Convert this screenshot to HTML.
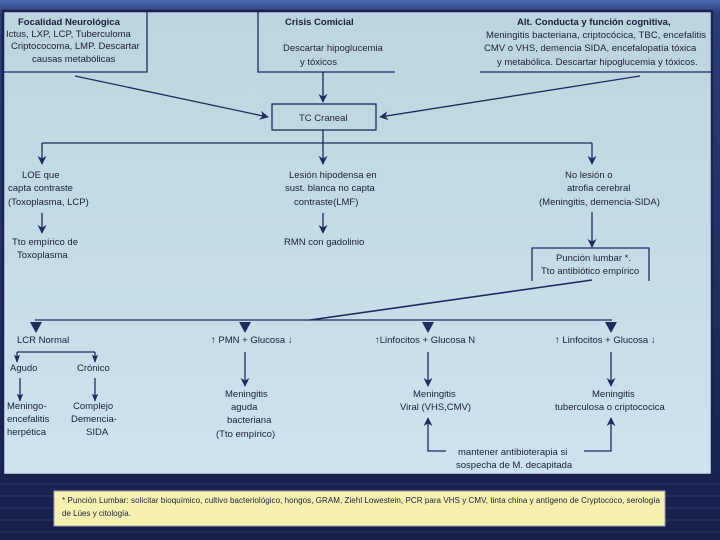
<!DOCTYPE html>
<html><head><meta charset="utf-8"><style>
body{margin:0;width:720px;height:540px;overflow:hidden;background:#1b2452;font-family:"Liberation Sans",sans-serif;}
svg{position:absolute;left:0;top:0}
text{font-family:"Liberation Sans",sans-serif;font-size:9.5px;fill:#1a1f3a}
.b{font-weight:bold}
</style></head><body>
<svg width="720" height="540" viewBox="0 0 720 540">
<defs>
<linearGradient id="bg" x1="0" y1="0" x2="0" y2="1">
<stop offset="0" stop-color="#4a6cb0"/><stop offset="0.025" stop-color="#2a3c78"/><stop offset="1" stop-color="#17204a"/></linearGradient>
<linearGradient id="pn" x1="0" y1="0" x2="0" y2="1">
<stop offset="0" stop-color="#bcd5de"/><stop offset="1" stop-color="#cde3ef"/></linearGradient>
<marker id="a" viewBox="0 0 10 10" refX="9" refY="5" markerWidth="9" markerHeight="9" orient="auto" markerUnits="userSpaceOnUse"><path d="M0,0 L10,5 L0,10 L3,5z" fill="#1f2a5e"/></marker>
<marker id="s" viewBox="0 0 10 10" refX="9" refY="5" markerWidth="8" markerHeight="8" orient="auto" markerUnits="userSpaceOnUse"><path d="M0,1 L10,5 L0,9 L2,5z" fill="#1f2a5e"/></marker>
</defs>
<rect width="720" height="540" fill="url(#bg)"/>
<g stroke="#2a3668" stroke-width="2" opacity="0.6">
<line x1="0" y1="484" x2="720" y2="484"/><line x1="0" y1="496" x2="720" y2="496"/><line x1="0" y1="508" x2="720" y2="508"/><line x1="0" y1="520" x2="720" y2="520"/><line x1="0" y1="532" x2="720" y2="532"/>
</g>
<rect x="3" y="11" width="709" height="464" fill="url(#pn)" stroke="#1a2350" stroke-width="2.5"/>
<rect x="54" y="491" width="611" height="35" fill="#f6f1b0" stroke="#9aa0b0" stroke-width="1"/>
<g stroke="#1f2a5e" stroke-width="1.3" fill="none">
<polyline points="3,72 147,72 147,12"/>
<polyline points="258,12 258,72 395,72"/>
<line x1="480" y1="72" x2="711" y2="72"/>
<line x1="75" y1="76" x2="268" y2="117" marker-end="url(#a)"/>
<line x1="323" y1="72" x2="323" y2="102" marker-end="url(#a)"/>
<line x1="640" y1="76" x2="380" y2="117" marker-end="url(#a)"/>
<rect x="272" y="104" width="104" height="26"/>
<line x1="323" y1="130" x2="323" y2="143"/>
<line x1="42" y1="143" x2="592" y2="143"/>
<line x1="42" y1="143" x2="42" y2="164" marker-end="url(#a)"/>
<line x1="323" y1="143" x2="323" y2="164" marker-end="url(#a)"/>
<line x1="592" y1="143" x2="592" y2="164" marker-end="url(#a)"/>
<line x1="42" y1="213" x2="42" y2="233" marker-end="url(#a)"/>
<line x1="323" y1="213" x2="323" y2="233" marker-end="url(#a)"/>
<line x1="592" y1="212" x2="592" y2="247" marker-end="url(#a)"/>
<polyline points="532,281 532,248 649,248 649,281"/>
<line x1="592" y1="280" x2="310" y2="320" stroke-width="1.6"/>
<line x1="35" y1="320" x2="612" y2="320"/>
<line x1="17" y1="352" x2="95" y2="352"/>
<line x1="17" y1="352" x2="17" y2="362" marker-end="url(#s)"/>
<line x1="95" y1="352" x2="95" y2="362" marker-end="url(#s)"/>
<line x1="20" y1="378" x2="20" y2="401" marker-end="url(#s)"/>
<line x1="95" y1="378" x2="95" y2="401" marker-end="url(#s)"/>
<line x1="245" y1="352" x2="245" y2="386" marker-end="url(#a)"/>
<line x1="428" y1="352" x2="428" y2="386" marker-end="url(#a)"/>
<line x1="611" y1="352" x2="611" y2="386" marker-end="url(#a)"/>
<polyline points="446,451 428,451 428,418" marker-end="url(#a)"/>
<polyline points="584,451 611,451 611,418" marker-end="url(#a)"/>
</g>
<g fill="#1f2a5e">
<path d="M30,322 L42,322 L36,333z"/><path d="M239,322 L251,322 L245,333z"/><path d="M422,322 L434,322 L428,333z"/><path d="M605,322 L617,322 L611,333z"/>
</g>
<text class="b" x="18" y="25">Focalidad Neurológica</text>
<text x="6" y="37">Ictus, LXP, LCP, Tuberculoma</text>
<text x="11" y="49">Criptococoma, LMP. Descartar</text>
<text x="32" y="62">causas metabólicas</text>
<text class="b" x="285" y="25">Crisis Comicial</text>
<text x="283" y="51">Descartar hipoglucemia</text>
<text x="300" y="65">y tóxicos</text>
<text class="b" x="517" y="25">Alt. Conducta y función cognitiva,</text>
<text x="486" y="38" textLength="220">Meningitis bacteriana, criptocócica, TBC, encefalitis</text>
<text x="484" y="51">CMV o VHS, demencia SIDA, encefalopatía tóxica</text>
<text x="497" y="65">y metabólica. Descartar hipoglucemia y tóxicos.</text>
<text x="299" y="121">TC Craneal</text>
<text x="22" y="178">LOE que</text>
<text x="8" y="191">capta contraste</text>
<text x="8" y="205">(Toxoplasma, LCP)</text>
<text x="289" y="178">Lesión hipodensa en</text>
<text x="285" y="191">sust. blanca no capta</text>
<text x="294" y="205">contraste(LMF)</text>
<text x="565" y="178">No lesión o</text>
<text x="567" y="191">atrofia cerebral</text>
<text x="539" y="205">(Meningitis, demencia-SIDA)</text>
<text x="12" y="245">Tto empírico de</text>
<text x="17" y="258">Toxoplasma</text>
<text x="284" y="245">RMN con gadolinio</text>
<text x="556" y="261">Punción lumbar *.</text>
<text x="541" y="274">Tto antibiótico empírico</text>
<text x="17" y="343">LCR Normal</text>
<text x="211" y="343">↑ PMN + Glucosa ↓</text>
<text x="375" y="343">↑Linfocitos + Glucosa N</text>
<text x="555" y="343">↑ Linfocitos + Glucosa ↓</text>
<text x="10" y="371">Agudo</text>
<text x="77" y="371">Crónico</text>
<text x="7" y="409">Meningo-</text>
<text x="7" y="422">encefalitis</text>
<text x="7" y="435">herpética</text>
<text x="73" y="409">Complejo</text>
<text x="71" y="422">Demencia-</text>
<text x="86" y="435">SIDA</text>
<text x="225" y="397">Meningitis</text>
<text x="231" y="410">aguda</text>
<text x="227" y="423">bacteriana</text>
<text x="216" y="437">(Tto empírico)</text>
<text x="413" y="397">Meningitis</text>
<text x="400" y="410">Viral  (VHS,CMV)</text>
<text x="592" y="397">Meningitis</text>
<text x="555" y="410">tuberculosa o criptococica</text>
<text x="458" y="455">mantener antibioterapia  si</text>
<text x="456" y="468">sospecha de M. decapitada</text>
<text x="62" y="503" style="font-size:8px" textLength="598">* Punción Lumbar: solicitar bioquímico, cultivo bacteriológico, hongos, GRAM, Ziehl Lowestein, PCR para VHS y CMV, tinta china y antígeno de Cryptococo, serología</text>
<text x="62" y="516" style="font-size:8px">de Lúes y citología.</text>
</svg>
</body></html>
